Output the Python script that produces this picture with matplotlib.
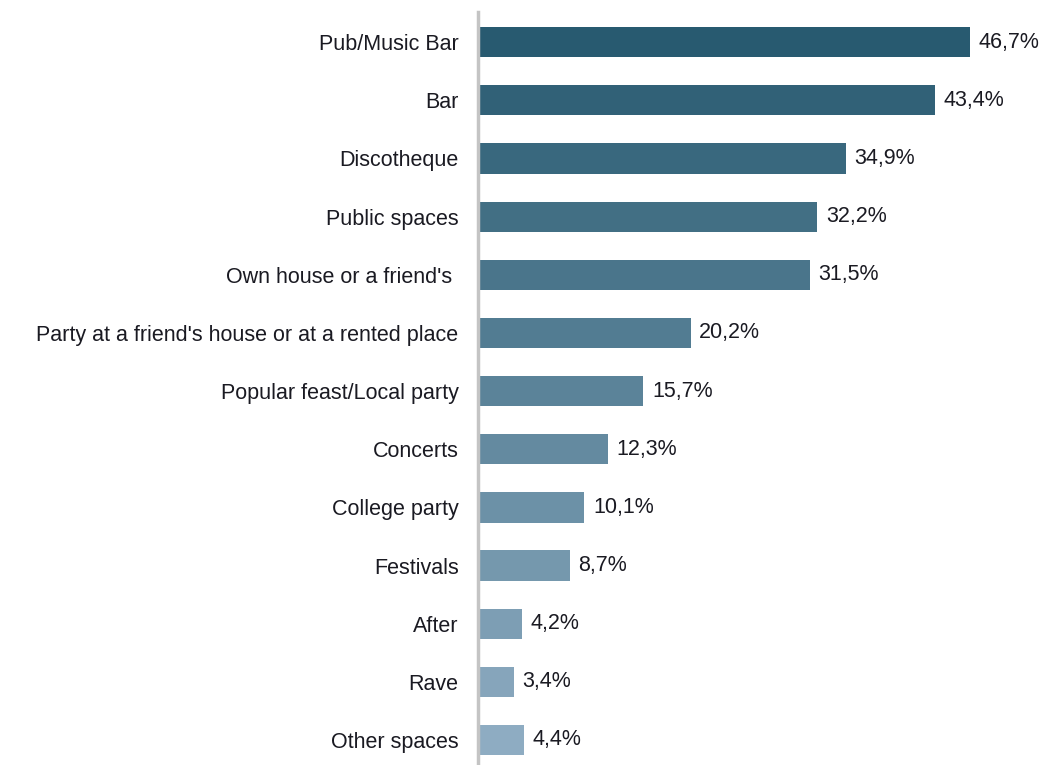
import matplotlib.pyplot as plt
import matplotlib.colors as mcolors
import numpy as np

# venues and share of respondents (%)
venues = ["Pub/Music Bar", "Bar", "Discotheque", "Public spaces", "Own house or a friend's ",
          "Party at a friend's house or at a rented place", "Popular feast/Local party",
          "Concerts", "College party", "Festivals", "After", "Rave", "Other spaces"]
shares = [46.7, 43.4, 34.9, 32.2, 31.5, 20.2, 15.7, 12.3, 10.1, 8.7, 4.2, 3.4, 4.4]

plt.rcParams['font.family'] = ['Liberation Sans', 'DejaVu Sans']

# dark-to-light blue shading from top bar to bottom bar
dark = np.array(mcolors.to_rgb("#285a70"))
light = np.array(mcolors.to_rgb("#8eacc2"))
colors = [dark + (light - dark) * i / (len(venues) - 1) for i in range(len(venues))]

fig = plt.figure(figsize=(10.46, 7.65), dpi=100)
ax = fig.add_axes([0.457, 0.0, 0.543, 0.984])

y = np.arange(len(venues))
ax.barh(y, shares, height=0.52, color=colors, edgecolor="none")

for yi, v in zip(y, shares):
    ax.text(v + 0.8, yi, f"{v:.1f}%".replace(".", ","), va="center", ha="left",
            fontsize=15.5, color="#1a1a22")

ax.set_yticks(y)
ax.set_yticklabels(venues, fontsize=15.5, color="#1a1a22")
ax.tick_params(axis="y", length=0, pad=14)
ax.set_xticks([])
ax.set_xlim(0, 53.9)
ax.set_ylim(12.43, -0.515)

for s in ["top", "right", "bottom"]:
    ax.spines[s].set_visible(False)
ax.spines["left"].set_color("#c4c4c4")
ax.spines["left"].set_linewidth(2.5)

fig.savefig("out.png", dpi=100)
